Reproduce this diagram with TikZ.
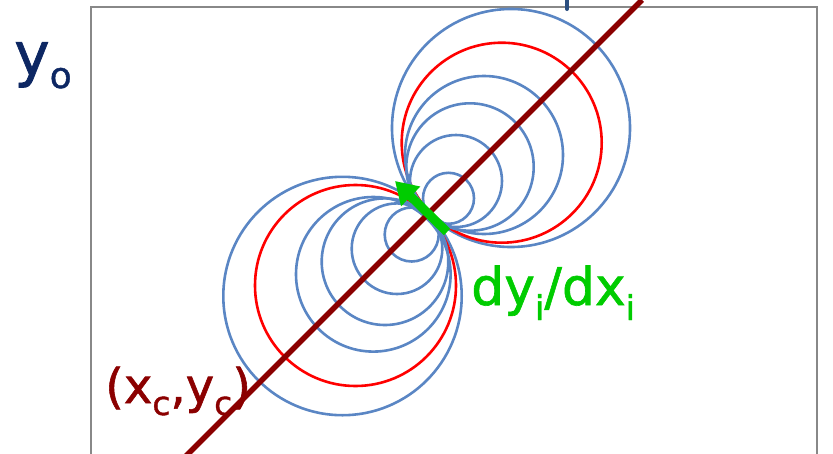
\documentclass[tikz,border=0pt]{standalone}
\usepackage{fontspec}
\setmainfont{DejaVu Sans}
\newfontfamily\labelfont[FakeBold=1.2]{DejaVu Sans}
\usetikzlibrary{arrows.meta}
\definecolor{circblue}{HTML}{5A86C4}
\definecolor{circred}{HTML}{FF0000}
\definecolor{darkred}{HTML}{8B0000}
\definecolor{navy}{HTML}{0D2763}
\definecolor{gframe}{HTML}{888888}
\definecolor{slopegreen}{HTML}{00CC00}
\definecolor{tickblue}{HTML}{2B4F80}
\newcommand{\mysub}[3]{\raisebox{-#2pt}{\fontsize{#1}{#1}\selectfont #3}}
\begin{document}
\begin{tikzpicture}[x=1pt,y=-1pt,
  frameline/.style={draw=gframe,line width=2.5pt},
  bluecirc/.style={draw=circblue,line width=2.6pt},
  redcirc/.style={draw=circred,line width=2.6pt},
  axisline/.style={draw=darkred,line width=5.5pt},
  slopearrow/.style={draw=slopegreen,line width=9pt,-{Triangle[length=22pt,width=26pt]}},
  lbl/.style={inner sep=0pt,anchor=base west,font=\labelfont}]
\useasboundingbox (0,0) rectangle (833,453);
\begin{scope}
\clip (0,0) rectangle (833,453);
\draw[frameline] (91,470) -- (91,7) -- (817,7) -- (817,470);
\draw[tickblue,line width=4pt,line cap=round] (567,-5) -- (567,9);
% upper family
\draw[bluecirc] (511,128) circle (119);
\draw[redcirc] (501.7,142.7) circle (100);
\draw[bluecirc] (484,155) circle (79);
\draw[bluecirc] (470,167) circle (63.7);
\draw[bluecirc] (456,181) circle (46);
\draw[bluecirc] (448.5,198.3) circle (25.5);
% lower family
\draw[bluecirc] (342.5,296) circle (119.2);
\draw[redcirc] (355.5,285.5) circle (100.5);
\draw[bluecirc] (373.3,274.3) circle (77.3);
\draw[bluecirc] (385,261.7) circle (63.3);
\draw[bluecirc] (397,248.7) circle (45.3);
\draw[bluecirc] (411.7,234.5) circle (27);
% line through centres
\coordinate (ltop) at (642,0);
\coordinate (lbot) at (186,456);
\draw[axisline] (ltop) -- (lbot);
% slope arrow
\coordinate (atail) at (447,232);
\coordinate (ahead) at (395,181);
\draw[slopearrow] (atail) -- (ahead);
\end{scope}
\node[lbl,text=navy] (yzero) at (14,75) {\fontsize{60}{60}\selectfont y\mysub{36}{13}{o}};
\node[lbl,text=slopegreen] (slope) at (471,305) {\fontsize{52}{52}\selectfont dy\mysub{34}{15}{i}/dx\mysub{34}{15}{i}};
\node[lbl,text=darkred] (centre) at (105,403) {\fontsize{48}{48}\selectfont (x\mysub{33}{12}{c},y\mysub{33}{12}{c})};
\end{tikzpicture}
\end{document}
